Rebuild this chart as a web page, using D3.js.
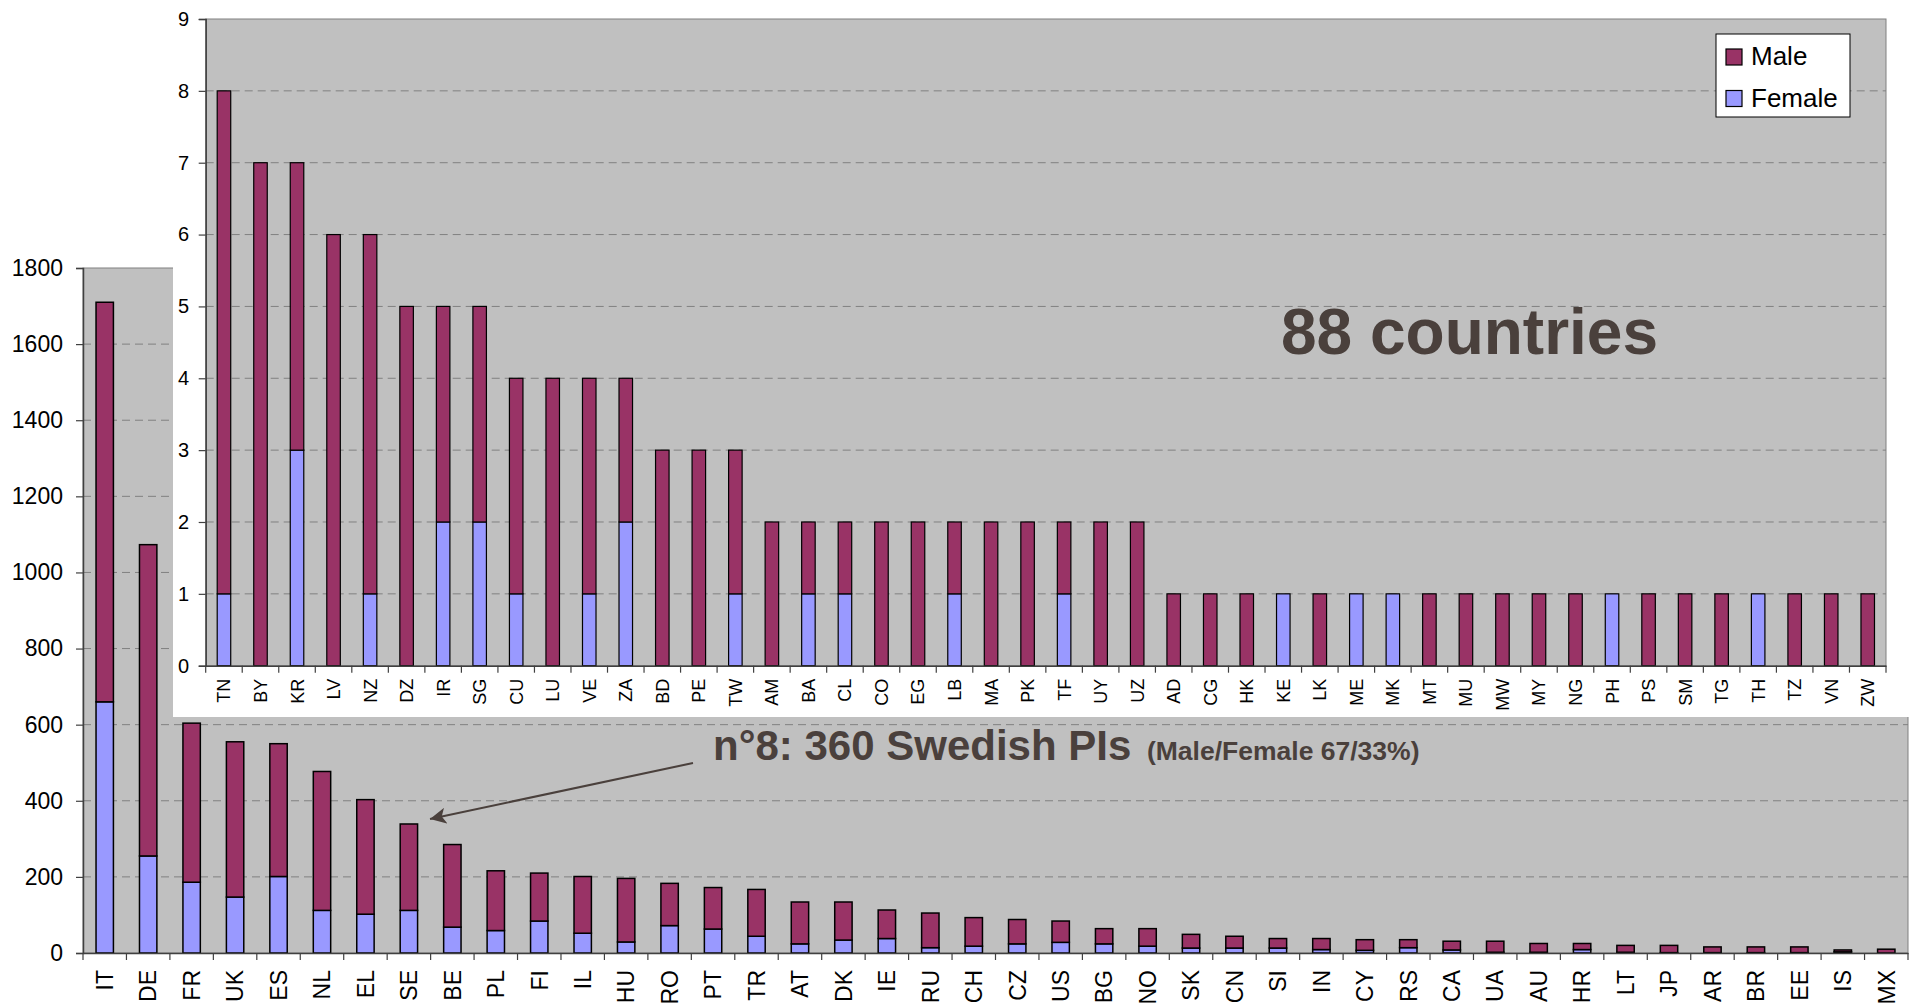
<!DOCTYPE html>
<html>
<head>
<meta charset="utf-8">
<script src="https://cdn.jsdelivr.net/npm/d3@7"></script>
<style>
  body { margin: 0; background: #fff; }
  svg { display: block; font-family: "Liberation Sans", Arial, sans-serif; }
</style>
</head>
<body>
<svg id="chart" width="1913" height="1006"></svg>
<script>
// Main chart: countries with the most PIs
const mainCountries = ["IT","DE","FR","UK","ES","NL","EL","SE","BE","PL","FI","IL","HU","RO","PT","TR","AT","DK","IE","RU","CH","CZ","US","BG","NO","SK","CN","SI","IN","CY","RS","CA","UA","AU","HR","LT","JP","AR","BR","EE","IS","MX"];
const mainFemale = [660,255,186,147,201,112,102,112,68,59,84,52,29,72,63,44,24,34,38,14,18,24,28,24,18,13,13,13,9,7,14,8,2,2,9,2,1,1,1,1,3,0];
const mainMale   = [1050,818,418,408,349,365,301,227,217,157,126,149,167,111,109,123,110,100,75,91,75,64,56,40,46,36,31,25,29,28,21,23,29,23,16,18,19,15,15,15,5,10];
const mainTicks  = [0,200,400,600,800,1000,1200,1400,1600,1800];

// Inset: the other countries
const insetCountries = ["TN","BY","KR","LV","NZ","DZ","IR","SG","CU","LU","VE","ZA","BD","PE","TW","AM","BA","CL","CO","EG","LB","MA","PK","TF","UY","UZ","AD","CG","HK","KE","LK","ME","MK","MT","MU","MW","MY","NG","PH","PS","SM","TG","TH","TZ","VN","ZW"];
const insetFemale = [1,0,3,0,1,0,2,2,1,0,1,2,0,0,1,0,1,1,0,0,1,0,0,1,0,0,0,0,0,1,0,1,1,0,0,0,0,0,1,0,0,0,1,0,0,0];
const insetMale   = [7,7,4,6,5,5,3,3,3,4,3,2,3,3,2,2,1,1,2,2,1,2,2,1,2,2,1,1,1,0,1,0,0,1,1,1,1,1,0,1,1,1,0,1,1,1];
const insetTicks  = [0,1,2,3,4,5,6,7,8,9];

const seriesKeys = ["female", "male"];
const colors = { male: "#993366", female: "#9999ff" };
const textDark = "#4a403c";
const font = "Liberation Sans, Arial, sans-serif";

const svg = d3.select("#chart");

function drawPanel(cfg) {
  const { countries, female, male, ticks, x0, x1, y0, y1, pad, labelFont, tickFont, labelGap, ytickLabelX, barStroke } = cfg;
  const rows = countries.map((c, i) => ({ country: c, female: female[i], male: male[i] }));

  const x = d3.scaleBand().domain(countries).range([x0, x1]).paddingInner(pad).paddingOuter(pad / 2);
  const y = d3.scaleLinear().domain([0, d3.max(ticks)]).range([y0, y1]);
  const g = svg.append("g");

  // plot area
  g.append("rect")
    .attr("x", x0).attr("y", y1)
    .attr("width", x1 - x0).attr("height", y0 - y1)
    .attr("fill", "#c0c0c0")
    .attr("stroke", "#808080").attr("stroke-width", 1);

  // dashed grid
  g.append("g").selectAll("line")
    .data(ticks.slice(1, -1))
    .join("line")
    .attr("x1", x0).attr("x2", x1)
    .attr("y1", d => y(d)).attr("y2", d => y(d))
    .attr("stroke", "#808080").attr("stroke-width", 1)
    .attr("stroke-dasharray", "8,5");

  // stacked bars
  const stacked = d3.stack().keys(seriesKeys)(rows);
  g.append("g").selectAll("g")
    .data(stacked)
    .join("g")
    .attr("fill", d => colors[d.key])
    .selectAll("rect")
    .data(d => d.filter(s => s[1] > s[0]))
    .join("rect")
    .attr("x", d => x(d.data.country))
    .attr("width", x.bandwidth())
    .attr("y", d => y(d[1]))
    .attr("height", d => y(d[0]) - y(d[1]))
    .attr("stroke", "#000").attr("stroke-width", barStroke);

  // y axis
  const yAxis = g.append("g")
    .attr("transform", `translate(${x0},0)`)
    .attr("font-size", tickFont).attr("font-family", font)
    .call(d3.axisLeft(y).tickValues(ticks).tickFormat(d3.format("d")).tickSize(7).tickPadding(0));
  yAxis.attr("font-size", tickFont).attr("font-family", font);
  yAxis.select(".domain").attr("stroke", "#404040").attr("stroke-width", 1.5);
  yAxis.selectAll(".tick line").attr("stroke", "#404040").attr("stroke-width", 1.2);
  yAxis.selectAll(".tick text")
    .attr("x", ytickLabelX - x0)
    .attr("fill", "#000");

  // x axis with ticks on category boundaries
  const xAxis = g.append("g")
    .attr("transform", `translate(0,${y0})`)
    .call(d3.axisBottom(x).tickSize(0).tickSizeOuter(0));
  xAxis.attr("font-size", labelFont).attr("font-family", font);
  xAxis.select(".domain").attr("stroke", "#404040").attr("stroke-width", 1.5);
  xAxis.selectAll(".tick text")
    .attr("transform", "rotate(-90)")
    .attr("text-anchor", "end")
    .attr("x", -labelGap)
    .attr("y", 0)
    .attr("dy", "0.36em")
    .attr("fill", "#000");

  const step = x.step();
  const bounds = countries.map(c => x(c) - step * pad / 2).concat([x1]);
  xAxis.append("g").selectAll("line")
    .data(bounds)
    .join("line")
    .attr("x1", d => d).attr("x2", d => d)
    .attr("y1", 0).attr("y2", 7)
    .attr("stroke", "#404040").attr("stroke-width", 1.2);

  return { x, y };
}

// main panel
drawPanel({
  countries: mainCountries, female: mainFemale, male: mainMale, ticks: mainTicks,
  x0: 83, x1: 1908, y0: 953, y1: 268, pad: 0.6,
  labelFont: 23, tickFont: 23, labelGap: 17, ytickLabelX: 63, barStroke: 1.5
});

// inset panel background
svg.append("rect")
  .attr("x", 173).attr("y", 0)
  .attr("width", 1913 - 173).attr("height", 717)
  .attr("fill", "#fff");

drawPanel({
  countries: insetCountries, female: insetFemale, male: insetMale, ticks: insetTicks,
  x0: 205.7, x1: 1886, y0: 665.7, y1: 19, pad: 0.63,
  labelFont: 18, tickFont: 20, labelGap: 13, ytickLabelX: 189, barStroke: 1.2
});

// legend
const legend = svg.append("g");
legend.append("rect")
  .attr("x", 1716).attr("y", 34)
  .attr("width", 134).attr("height", 83)
  .attr("fill", "#fff").attr("stroke", "#000").attr("stroke-width", 1);
const legendItems = [{ key: "male", label: "Male" }, { key: "female", label: "Female" }];
legendItems.forEach((it, i) => {
  const yy = 49 + i * 41.5;
  legend.append("rect")
    .attr("x", 1726).attr("y", yy)
    .attr("width", 16).attr("height", 16)
    .attr("fill", colors[it.key]).attr("stroke", "#000").attr("stroke-width", 1.2);
  legend.append("text")
    .attr("x", 1751).attr("y", yy + 16)
    .attr("font-size", 26)
    .attr("fill", "#000")
    .text(it.label);
});

// annotations
svg.append("text")
  .attr("x", 1281).attr("y", 354)
  .attr("font-size", 64).attr("font-weight", "bold")
  .attr("fill", textDark)
  .text("88 countries");

const note = svg.append("text")
  .attr("x", 713).attr("y", 760)
  .attr("font-weight", "bold")
  .attr("fill", textDark);
note.append("tspan").attr("font-size", 42).text("n°8: 360 Swedish PIs ");
note.append("tspan").attr("font-size", 26.5).attr("dx", 4).text("(Male/Female 67/33%)");

svg.append("defs").append("marker")
  .attr("id", "arrow")
  .attr("viewBox", "0 0 10 10")
  .attr("refX", 10).attr("refY", 5)
  .attr("markerWidth", 8).attr("markerHeight", 8)
  .attr("markerUnits", "strokeWidth")
  .attr("orient", "auto")
  .append("path")
  .attr("d", "M0,0 L10,5 L0,10 L2.5,5 Z")
  .attr("fill", textDark);

svg.append("line")
  .attr("x1", 693).attr("y1", 763)
  .attr("x2", 430).attr("y2", 819)
  .attr("stroke", textDark).attr("stroke-width", 2)
  .attr("marker-end", "url(#arrow)");
</script>
</body>
</html>
